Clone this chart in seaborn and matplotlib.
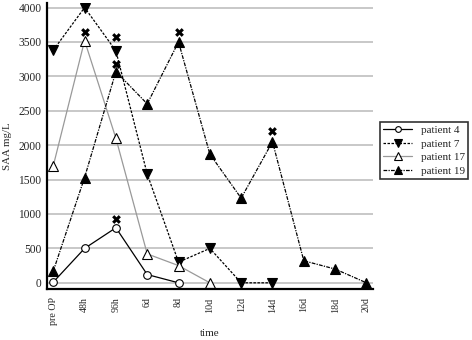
import numpy as np
import pandas as pd
import matplotlib
matplotlib.use('Agg')
import matplotlib.pyplot as plt
import seaborn as sns

sns.set_style('white')
plt.rcParams['font.family'] = ['Liberation Serif', 'DejaVu Serif']

# categories and series
times = ['pre OP', '48h', '96h', '6d', '8d', '10d', '12d', '14d', '16d', '18d', '20d']
patient_4 = [10, 500, 800, 120, 0]
patient_7 = [3380, 4000, 3370, 1580, 300, 500, 0, 0]
patient_17 = [1700, 3520, 2100, 420, 250, 0]
patient_19 = [170, 1530, 3070, 2600, 3500, 1870, 1230, 2050, 320, 200, 0]

# significance marks
star_times = ['48h', '96h', '96h', '96h', '8d', '14d']
star_values = [3640, 3570, 3180, 930, 3640, 2200]

series = [
    ('patient 4', patient_4, dict(color='black', linestyle='-', marker='o', markersize=5.5,
                                  markerfacecolor='white', markeredgecolor='black')),
    ('patient 7', patient_7, dict(color='black', linestyle=(0, (2, 1.2)), marker='v', markersize=7.5,
                                  markerfacecolor='black', markeredgecolor='black')),
    ('patient 17', patient_17, dict(color='#999999', linestyle='-', marker='^', markersize=7.5,
                                    markerfacecolor='white', markeredgecolor='black')),
    ('patient 19', patient_19, dict(color='black', linestyle=(0, (3, 1, 1, 1)), marker='^', markersize=7.5,
                                    markerfacecolor='black', markeredgecolor='black')),
]

fig = plt.figure(figsize=(4.72, 3.4), dpi=100)
ax = fig.add_axes([0.0996, 0.15, 0.69, 0.84])

for y in range(0, 4001, 500):
    ax.axhline(y, color='#c4c4c4', lw=1.3, zorder=0)

for name, vals, st in series:
    d = pd.DataFrame({'x': range(len(vals)), 'y': vals})
    sns.lineplot(data=d, x='x', y='y', ax=ax, label=name, lw=0.9,
                 markeredgewidth=0.8, **st)

star_df = pd.DataFrame({'x': [times.index(t) for t in star_times], 'y': star_values})
sns.scatterplot(data=star_df, x='x', y='y', ax=ax, marker='X', color='black',
                s=40, linewidth=0, zorder=5)

ax.set_xlim(-0.2, 10.2)
ax.set_ylim(-90, 4060)
ax.set_xticks(range(len(times)))
ax.set_xticklabels(times, rotation=90, fontsize=7.2)
ax.set_yticks(range(0, 4001, 500))
ax.set_yticklabels([str(v) for v in range(0, 4001, 500)], fontsize=8.3)
ax.set_xlabel('time', fontsize=8, labelpad=3)
ax.set_ylabel('SAA mg/L', fontsize=7.8)
ax.yaxis.set_label_coords(-0.106, 0.5)

for s in ['top', 'right']:
    ax.spines[s].set_visible(False)
for s in ['left', 'bottom']:
    ax.spines[s].set_linewidth(1.6)
    ax.spines[s].set_color('black')
ax.tick_params(axis='y', direction='out', length=3.5, width=1, color='black', pad=0.5)
ax.tick_params(axis='x', direction='out', length=4, width=1, color='black', pad=2)

leg = ax.legend(loc='upper left', bbox_to_anchor=(1.005, 0.605), fontsize=8,
                frameon=True, fancybox=False, edgecolor='black', markerscale=0.75,
                handlelength=2.6, handletextpad=0.8, borderpad=0.3, labelspacing=0.35)
leg.get_frame().set_linewidth(1.2)

fig.savefig('out.png', dpi=100)
